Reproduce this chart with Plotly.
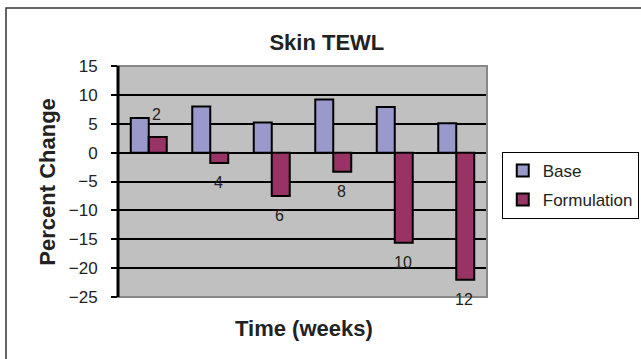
import plotly.graph_objects as go

# Percent change in skin TEWL by week
weeks = ["2", "4", "6", "8", "10", "12"]
base = [6.0, 8.0, 5.2, 9.2, 7.9, 5.1]
formulation = [2.7, -1.8, -7.5, -3.3, -15.6, -22.0]

BASE_COLOR = "#9999CC"
FORM_COLOR = "#993366"
FONT = "Liberation Sans, Arial, sans-serif"

fig = go.Figure()
fig.add_trace(go.Bar(
    x=weeks, y=base, name="Base", legendgroup="a",
    marker=dict(color=BASE_COLOR, line=dict(color="black", width=2)),
))
fig.add_trace(go.Bar(
    x=weeks, y=formulation, name="Formulation", legendgroup="b",
    marker=dict(color=FORM_COLOR, line=dict(color="black", width=2)),
))

# week labels sit next to the formulation bar of each group
# (x given as category index so numeric-looking names are not misread)
annotations = []
for i, (w, b, f) in enumerate(zip(weeks, base, formulation)):
    if f < 0:
        y, anchor, shift = f, "top", -9
    else:
        y, anchor, shift = max(b, f), "middle", 3
    annotations.append(dict(
        x=i, y=y, xref="x", yref="y", text=w, showarrow=False,
        xanchor="center", yanchor=anchor, xshift=8, yshift=shift,
        font=dict(family=FONT, size=16, color="#222222"),
    ))

annotations.append(dict(
    x=-0.192, y=0.5, xref="paper", yref="paper", text="<b>Percent Change</b>",
    textangle=-90, showarrow=False, xanchor="center", yanchor="middle",
    font=dict(family=FONT, size=22, color="#222222"),
))
annotations.append(dict(
    x=0.505, y=-0.1385, xref="paper", yref="paper", text="<b>Time (weeks)</b>",
    showarrow=False, xanchor="center", yanchor="middle",
    font=dict(family=FONT, size=22, color="#222222"),
))

shapes = [
    # plot-area frame (top, right, bottom edges in grey)
    dict(type="rect", xref="paper", yref="paper", x0=0, x1=1, y0=0, y1=1,
         line=dict(color="#888888", width=2), layer="above"),
    # chart-area border
    dict(type="rect", xref="paper", yref="paper", x0=-0.3035, x1=1.5,
         y0=-0.4, y1=1.251, line=dict(color="#333333", width=1.5)),
    # left value axis line
    dict(type="line", xref="paper", yref="paper", x0=0, x1=0, y0=0, y1=1,
         line=dict(color="black", width=3), layer="above"),
]

fig.update_layout(
    width=641, height=359,
    margin=dict(l=118, r=154, t=66, b=62, autoexpand=False),
    paper_bgcolor="white",
    plot_bgcolor="#C0C0C0",
    barmode="group",
    bargap=0.415,
    bargroupgap=0,
    title=dict(text="<b>Skin TEWL</b>", x=0.566, xref="paper", xanchor="center",
               y=1 - 42 / 359, yref="container", yanchor="middle",
               font=dict(family=FONT, size=22, color="#222222")),
    legend=dict(x=1.04, y=0.628, xanchor="left", yanchor="top",
                bgcolor="white", bordercolor="black", borderwidth=1,
                font=dict(family=FONT, size=17, color="#222222"),
                traceorder="grouped", tracegroupgap=4,
                itemwidth=30),
    annotations=annotations,
    shapes=shapes,
    showlegend=True,
)
fig.update_xaxes(type="category", range=[-0.5, len(weeks) - 0.5],
                 showticklabels=False, showgrid=False,
                 ticks="", zeroline=False, showline=False)
fig.update_yaxes(range=[-25, 15], dtick=5, tick0=0,
                 showgrid=True, gridcolor="black", gridwidth=2,
                 zeroline=True, zerolinecolor="black", zerolinewidth=2,
                 ticks="outside", ticklen=6, tickwidth=2, tickcolor="black",
                 ticklabelstandoff=10,
                 tickfont=dict(family=FONT, size=17, color="#222222"),
                 showline=False)

fig.write_html("out.html")
